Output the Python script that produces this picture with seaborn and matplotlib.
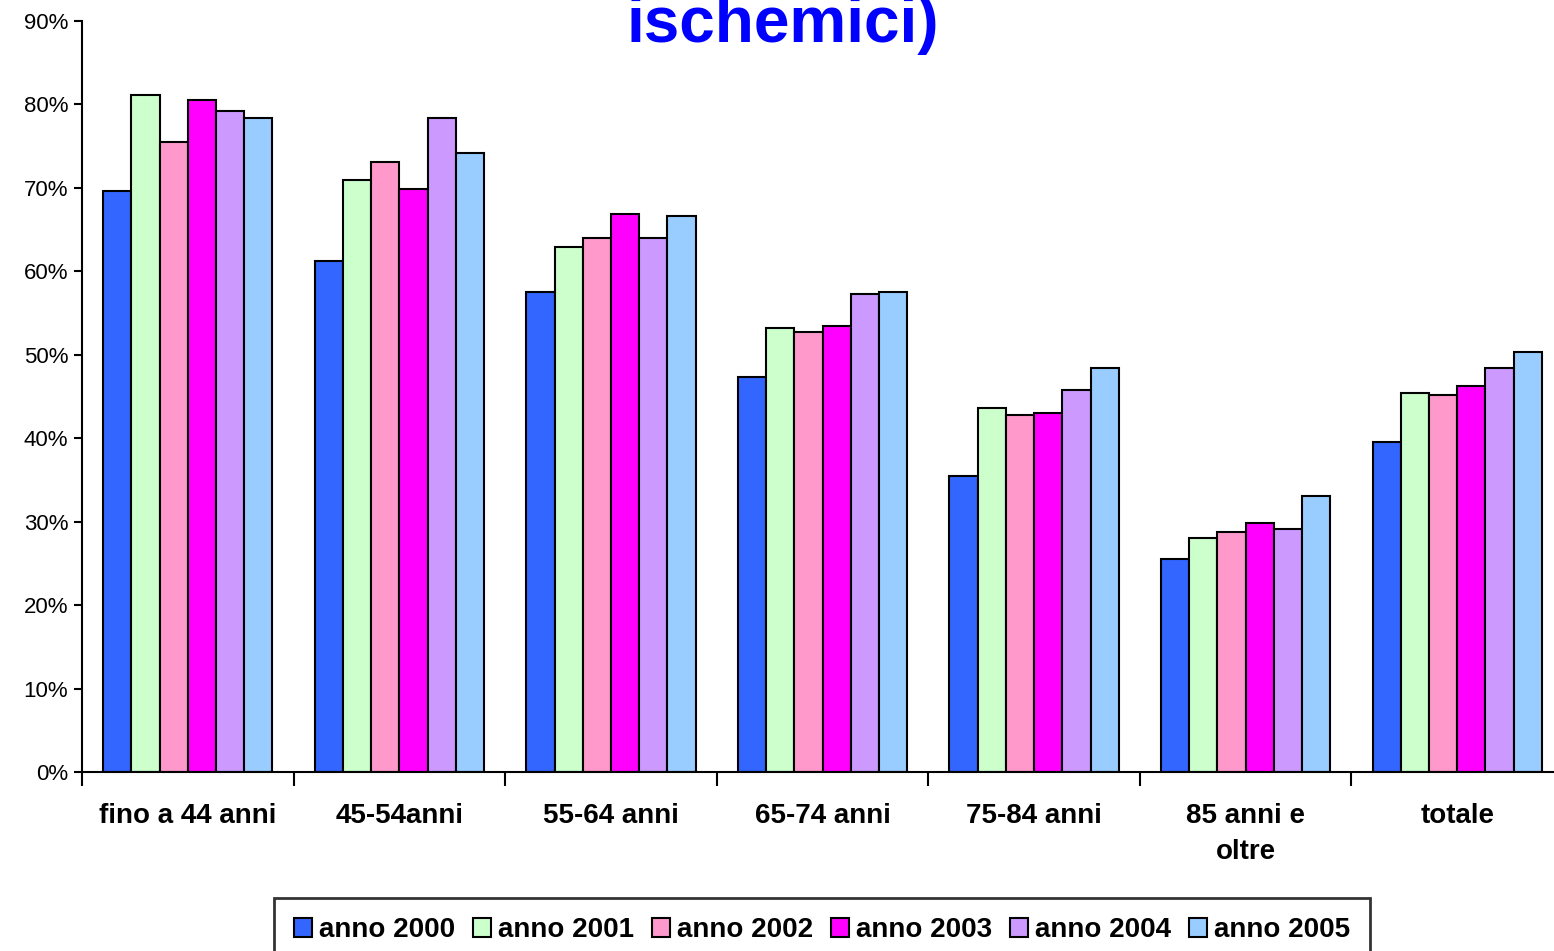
import matplotlib
matplotlib.use('Agg')
import matplotlib.pyplot as plt
from matplotlib.ticker import FixedLocator, PercentFormatter
import seaborn as sns
import pandas as pd

# Categories (age bands) and yearly series, values in percent
categories = ["fino a 44 anni", "45-54anni", "55-64 anni", "65-74 anni",
              "75-84 anni", "85 anni e\noltre", "totale"]
years = ["anno 2000", "anno 2001", "anno 2002", "anno 2003", "anno 2004", "anno 2005"]
anno_2000 = [69.6, 61.2, 57.5, 47.3, 35.5, 25.5, 39.5]
anno_2001 = [81.1, 70.9, 62.9, 53.2, 43.6, 28.0, 45.4]
anno_2002 = [75.5, 73.1, 64.0, 52.7, 42.8, 28.8, 45.2]
anno_2003 = [80.5, 69.9, 66.9, 53.5, 43.0, 29.8, 46.3]
anno_2004 = [79.2, 78.4, 64.0, 57.3, 45.8, 29.1, 48.4]
anno_2005 = [78.4, 74.2, 66.6, 57.5, 48.4, 33.1, 50.3]
yticks = [0, 10, 20, 30, 40, 50, 60, 70, 80, 90]

colors = ["#3366FF", "#CCFFCC", "#FF99CC", "#FF00FF", "#CC99FF", "#99CCFF"]

series = [anno_2000, anno_2001, anno_2002, anno_2003, anno_2004, anno_2005]
rows = []
for year, vals in zip(years, series):
    for cat, v in zip(categories, vals):
        rows.append({"categoria": cat, "anno": year, "valore": v})
df = pd.DataFrame(rows)

sns.set_style("white")
plt.rcParams['font.family'] = ['Liberation Sans', 'DejaVu Sans']
plt.rcParams['text.color'] = 'black'
plt.rcParams['xtick.color'] = 'black'
plt.rcParams['ytick.color'] = 'black'

fig = plt.figure(figsize=(15.54, 9.51), dpi=100)
ax = fig.add_axes([0.0528, 0.1882, 0.953, 0.7897])

sns.barplot(data=df, x="categoria", y="valore", hue="anno", order=categories,
            hue_order=years, palette=colors, saturation=1, edgecolor="black",
            linewidth=1.5, width=0.8, ax=ax, legend=True)

ax.set_xlim(-0.5, 6.5)
ax.set_ylim(0, 90)
ax.yaxis.set_major_locator(FixedLocator(yticks))
ax.yaxis.set_major_formatter(PercentFormatter(decimals=0))
ax.tick_params(axis='y', labelsize=16, length=6, width=1.5, direction='out', left=True, pad=4)

# category boundary ticks, labels centred in between
ax.set_xticks([i - 0.5 for i in range(len(categories) + 1)])
ax.set_xticklabels([])
ax.set_xticks(range(len(categories)), minor=True)
ax.set_xticklabels(categories, minor=True, fontsize=20, fontweight='bold', linespacing=1.5)
ax.tick_params(axis='x', which='major', length=10, width=1.5, direction='out', bottom=True)
ax.tick_params(axis='x', which='minor', length=0, pad=22)
ax.set_xlabel("")
ax.set_ylabel("")

for side in ["top", "right"]:
    ax.spines[side].set_visible(False)
for side in ["left", "bottom"]:
    ax.spines[side].set_color("black")
    ax.spines[side].set_linewidth(1.5)

handles, labels = ax.get_legend_handles_labels()
ax.get_legend().remove()
leg = fig.legend(handles, labels, loc='center', bbox_to_anchor=(0.529, 0.022), ncol=6,
                 frameon=True, fancybox=False, edgecolor='black',
                 prop={'size': 20, 'weight': 'bold'}, handlelength=0.65, handleheight=0.65,
                 handletextpad=0.25, columnspacing=0.65, borderpad=0.7, borderaxespad=0)
leg.get_frame().set_linewidth(2)

fig.text(0.504, 1 - 42 / 951, "ischemici)", ha='center', va='baseline',
         fontsize=46, fontweight='bold', color='#0000FF')

fig.savefig("out.png", dpi=100)
